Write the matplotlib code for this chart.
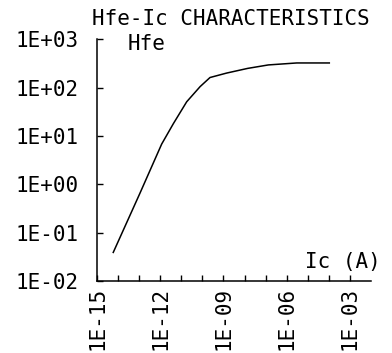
import matplotlib
matplotlib.use("Agg")
import matplotlib.pyplot as plt
from matplotlib.ticker import FixedLocator, FixedFormatter, NullLocator

# values
ic_amps = [5.9e-15, 1.1e-13, 1.17e-12, 4.2e-12, 1.8e-11, 7.8e-11, 2.3e-10, 1.4e-9, 1.4e-8, 1.35e-7, 3.0e-6, 1.05e-4]
hfe = [0.039, 0.66, 6.8, 18, 51, 105, 162, 200, 250, 295, 324, 324]

x_ticks = [10.0 ** e for e in range(-15, -2)]
x_tick_labels = ["1E-15", "", "", "1E-12", "", "", "1E-09", "", "", "1E-06", "", "", "1E-03"]
y_ticks = [1e-2, 1e-1, 1e0, 1e1, 1e2, 1e3]
y_tick_labels = ["1E-02", "1E-01", "1E+00", "1E+01", "1E+02", "1E+03"]

FONT = "DejaVu Sans Mono"
SIZE = 15

fig = plt.figure(figsize=(3.92, 3.53), dpi=100)
ax = fig.add_axes([97 / 392, 1 - 281 / 353, (371 - 97) / 392, (281 - 39.3) / 353])

ax.plot(ic_amps, hfe, color="black", linewidth=1.1)

ax.set_xscale("log")
ax.set_yscale("log")
ax.set_xlim(1e-15, 1e-2)
ax.set_ylim(1e-2, 1e3)

ax.xaxis.set_major_locator(FixedLocator(x_ticks))
ax.xaxis.set_major_formatter(FixedFormatter(x_tick_labels))
ax.xaxis.set_minor_locator(NullLocator())
ax.yaxis.set_major_locator(FixedLocator(y_ticks))
ax.yaxis.set_major_formatter(FixedFormatter(y_tick_labels))
ax.yaxis.set_minor_locator(NullLocator())

for side in ("top", "right"):
    ax.spines[side].set_visible(False)
for side in ("left", "bottom"):
    ax.spines[side].set_linewidth(1.1)

ax.tick_params(axis="both", direction="in", length=4, width=1.0, color="black")
ax.tick_params(axis="y", pad=13.5)
ax.tick_params(axis="x", pad=4)

for label in ax.get_yticklabels():
    label.set_fontfamily(FONT)
    label.set_fontsize(SIZE)
for label in ax.get_xticklabels():
    label.set_fontfamily(FONT)
    label.set_fontsize(SIZE)
    label.set_rotation(90)
    label.set_verticalalignment("top")
    label.set_horizontalalignment("center")

fig.text(231 / 392, 1 - 19 / 353, "Hfe-Ic CHARACTERISTICS", family=FONT, fontsize=SIZE,
         ha="center", va="center")
fig.text(128 / 392, 1 - 44 / 353, "Hfe", family=FONT, fontsize=SIZE, ha="left", va="center")
fig.text(381 / 392, 1 - 262 / 353, "Ic (A)", family=FONT, fontsize=SIZE, ha="right", va="center")

fig.savefig("out.png", dpi=100)
